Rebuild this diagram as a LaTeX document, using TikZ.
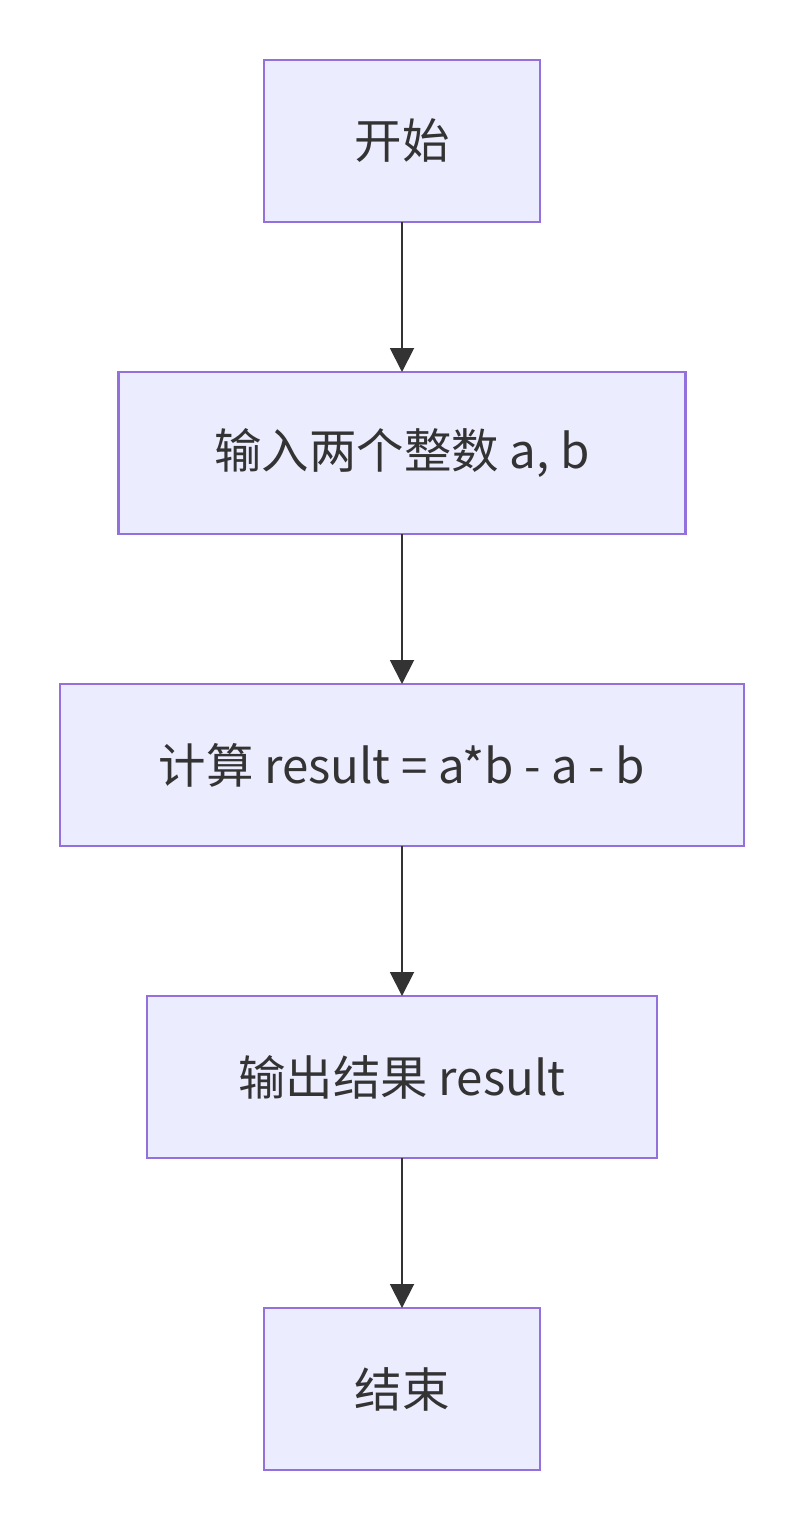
\documentclass[tikz,border=0pt]{standalone}
\usepackage{fontspec}
\setmainfont{Noto Sans CJK SC}
\usepackage{tikz}
\usetikzlibrary{arrows.meta,positioning}
\definecolor{FlowFill}{RGB}{236,236,255}
\definecolor{FlowLine}{RGB}{147,112,219}
\definecolor{FlowArrow}{RGB}{51,51,51}

\begin{document}
\begin{tikzpicture}[
    node distance=3.0cm,
    stepbox/.style={draw=FlowLine, fill=FlowFill, line width=1.2pt, minimum height=3.24cm, inner sep=0pt, outer sep=0pt, align=center, text=FlowArrow, font=\fontsize{27}{32}\selectfont},
    arrow/.style={-{Triangle[length=0.48cm, width=0.48cm]}, line width=1.1pt, draw=FlowArrow}
  ]
    \useasboundingbox[fill=white] (0,0) rectangle (16.06,-30.62);
    \node[stepbox, minimum width=5.52cm] (start) at (8.04,-2.82) {开始};
    \node[stepbox, minimum width=11.34cm, below=of start] (input) {输入两个整数 a, b};
    \node[stepbox, minimum width=13.68cm, below=of input] (calc) {计算 result = a*b - a - b};
    \node[stepbox, minimum width=10.2cm, below=of calc] (output) {输出结果 result};
    \node[stepbox, minimum width=5.52cm, below=of output] (stop) {结束};
    \foreach \a/\b in {start/input,input/calc,calc/output,output/stop} {\draw[arrow] (\a) -- (\b);}
  \end{tikzpicture}
\end{document}
